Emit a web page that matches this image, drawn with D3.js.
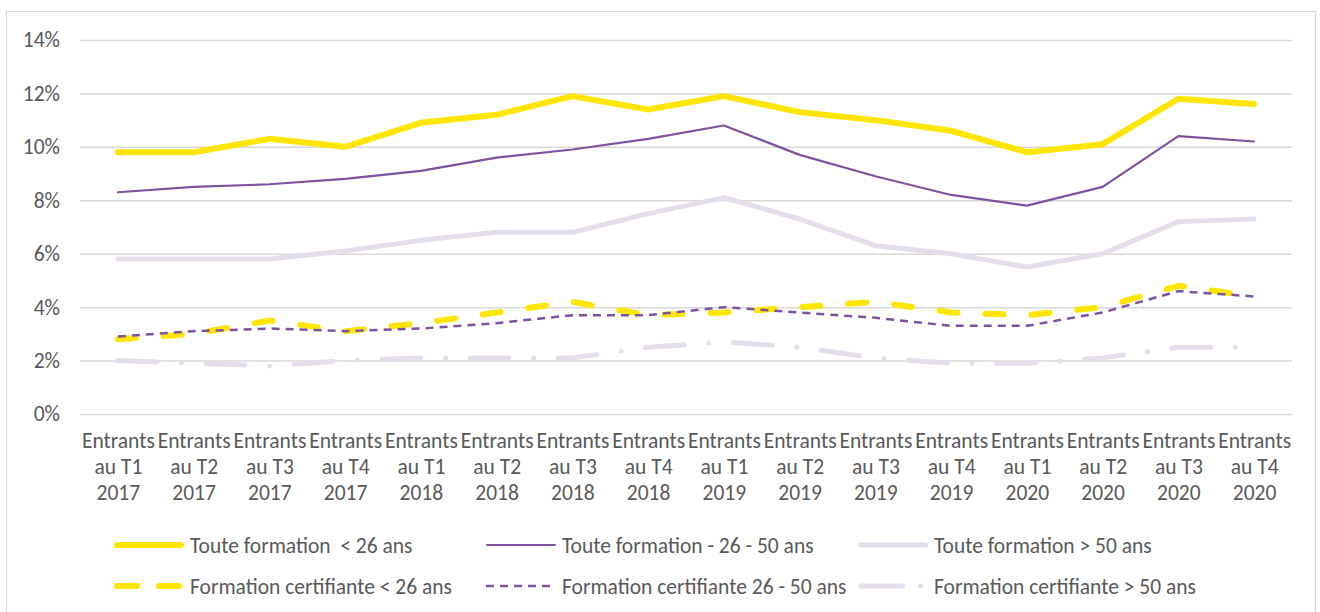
<!DOCTYPE html>
<html>
<head>
<meta charset="utf-8">
<script src="https://cdn.jsdelivr.net/npm/d3@7"></script>
<style>
  html, body { margin: 0; padding: 0; background: #fff; }
  svg { display: block; }
  text { font-family: Carlito, Lato, sans-serif; fill: #595959; }
</style>
</head>
<body>
<svg id="chart" width="1320" height="612"></svg>
<script>
const categories = [
  "Entrants au T1 2017", "Entrants au T2 2017", "Entrants au T3 2017", "Entrants au T4 2017",
  "Entrants au T1 2018", "Entrants au T2 2018", "Entrants au T3 2018", "Entrants au T4 2018",
  "Entrants au T1 2019", "Entrants au T2 2019", "Entrants au T3 2019", "Entrants au T4 2019",
  "Entrants au T1 2020", "Entrants au T2 2020", "Entrants au T3 2020", "Entrants au T4 2020"
];
const yTicks = [0, 0.02, 0.04, 0.06, 0.08, 0.10, 0.12, 0.14];

const seriesNames = [
  "Toute formation  < 26 ans",
  "Toute formation - 26 - 50 ans",
  "Toute formation > 50 ans",
  "Formation certifiante < 26 ans",
  "Formation certifiante 26 - 50 ans",
  "Formation certifiante > 50 ans"
];
const touteMoins26 = [0.098, 0.098, 0.103, 0.100, 0.109, 0.112, 0.119, 0.114, 0.119, 0.113, 0.110, 0.106, 0.098, 0.101, 0.118, 0.116];
const toute26a50   = [0.083, 0.085, 0.086, 0.088, 0.091, 0.096, 0.099, 0.103, 0.108, 0.097, 0.089, 0.082, 0.078, 0.085, 0.104, 0.102];
const toutePlus50  = [0.058, 0.058, 0.058, 0.061, 0.065, 0.068, 0.068, 0.075, 0.081, 0.073, 0.063, 0.060, 0.055, 0.060, 0.072, 0.073];
const certMoins26  = [0.028, 0.030, 0.035, 0.031, 0.034, 0.038, 0.042, 0.037, 0.038, 0.040, 0.042, 0.038, 0.037, 0.040, 0.048, 0.044];
const cert26a50    = [0.029, 0.031, 0.032, 0.031, 0.032, 0.034, 0.037, 0.037, 0.040, 0.038, 0.036, 0.033, 0.033, 0.038, 0.046, 0.044];
const certPlus50   = [0.020, 0.019, 0.018, 0.020, 0.021, 0.021, 0.021, 0.025, 0.027, 0.025, 0.021, 0.019, 0.019, 0.021, 0.025, 0.025];

const seriesValues = [touteMoins26, toute26a50, toutePlus50, certMoins26, cert26a50, certPlus50];
const styles = [
  { color: "#FFE600", width: 6,   dash: null,               cap: "round" },
  { color: "#7E52A0", width: 2.2, dash: null,               cap: "round" },
  { color: "#E6DDEC", width: 5,   dash: null,               cap: "round" },
  { color: "#FFE600", width: 6,   dash: "18,28",            cap: "round" },
  { color: "#7E52A0", width: 2.5, dash: "8,6",              cap: "butt"  },
  { color: "#E6DDEC", width: 5,   dash: "39,24.5,0.1,24.5", cap: "round" }
];

const svg = d3.select("#chart");
const mLeft = 80, mRight = 1292, mTop = 40, mBottom = 414;
const fs = 21.5;

// chart border
svg.append("rect").attr("x", 6.5).attr("y", 11.5).attr("width", 1309).attr("height", 620)
  .attr("fill", "none").attr("stroke", "#D9D9D9").attr("stroke-width", 1.2);

const x = d3.scalePoint().domain(categories).range([mLeft, mRight]).padding(0.5);
const y = d3.scaleLinear().domain([0, 0.14]).range([mBottom, mTop]);

// y axis with gridlines
const yAxis = svg.append("g").attr("transform", `translate(${mLeft},0)`)
  .call(d3.axisLeft(y).tickValues(yTicks).tickFormat(d3.format(".0%")).tickSize(-(mRight - mLeft)).tickPadding(20));
yAxis.select(".domain").remove();
yAxis.selectAll(".tick line").attr("stroke", "#D9D9D9").attr("stroke-width", 1.5);
yAxis.selectAll(".tick text").attr("font-size", fs).style("fill", "#595959");

// x axis labels
const xAxis = svg.append("g").attr("transform", `translate(0,${mBottom})`)
  .call(d3.axisBottom(x).tickSize(0).tickFormat(""));
xAxis.select(".domain").remove();
xAxis.selectAll(".tick").each(function(d) {
  const parts = d.split(" ");
  const lines = [parts[0], parts[1] + " " + parts[2], parts[3]];
  const t = d3.select(this).append("text").attr("text-anchor", "middle").attr("font-size", fs).style("fill", "#595959");
  lines.forEach((ln, i) => {
    t.append("tspan").attr("x", 0).attr("y", 34 + i * 26).text(ln);
  });
});

// lines
const line = d3.line().x((d, i) => x(categories[i])).y(d => y(d));
seriesValues.forEach((vals, k) => {
  const s = styles[k];
  svg.append("path").datum(vals).attr("d", line)
    .attr("fill", "none").attr("stroke", s.color).attr("stroke-width", s.width)
    .attr("stroke-linejoin", "round").attr("stroke-linecap", s.cap)
    .attr("stroke-dasharray", s.dash);
});

// legend
const legX = [114, 486, 858];
const legY = [545, 586];
seriesNames.forEach((name, k) => {
  const s = styles[k];
  const col = k % 3, row = Math.floor(k / 3);
  const g = svg.append("g").attr("transform", `translate(${legX[col]},${legY[row]})`);
  const x0 = s.cap === "round" ? s.width / 2 : 0;
  const x1 = s.cap === "round" ? 70 - s.width / 2 : 70;
  g.append("line").attr("x1", x0).attr("x2", x1).attr("y1", 0).attr("y2", 0)
    .attr("stroke", s.color).attr("stroke-width", s.width).attr("stroke-linecap", s.cap)
    .attr("stroke-dasharray", k === 5 ? "42,18,0.1,20" : (k === 3 ? "20,22" : s.dash));
  g.append("text").attr("x", 76).attr("y", 0).attr("dy", "0.35em").attr("font-size", fs)
    .style("white-space", "pre").text(name);
});
</script>
</body>
</html>
